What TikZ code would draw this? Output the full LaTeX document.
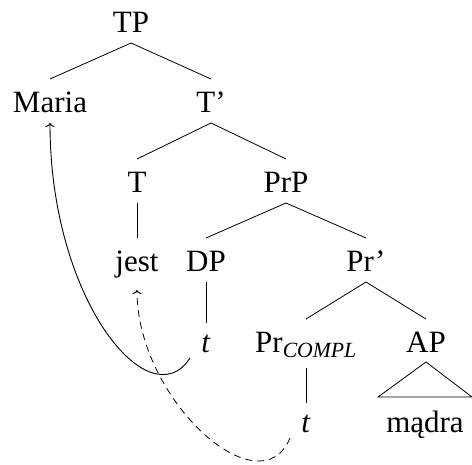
\documentclass[tikz,border=0pt]{standalone}
\usepackage{fontspec}
\setmainfont{Liberation Serif}
\usetikzlibrary{arrows.meta}
\begin{document}
\begin{tikzpicture}[x=1pt,y=-1pt,
  lbl/.style={font=\fontsize{31}{37}\selectfont, inner sep=0pt, outer sep=0pt, anchor=base, text height=33pt, text depth=11pt},
  trc/.style={lbl, text height=29pt},
  edge/.style={line width=0.8pt},
  tipsty/.style={-{To[length=4pt,width=9pt,line width=0.9pt]}},
  move/.style={line width=0.9pt, tipsty},
  movedash/.style={line width=0.8pt, tipsty, dash pattern=on 7pt off 5pt}]
\useasboundingbox (0,0) rectangle (472,464);
\node[lbl] (TP) at (131,32) {TP};
\node[lbl] (Maria) at (50,112) {Maria};
\node[lbl] (Tbar) at (211,112) {T'};
\node[lbl] (T) at (137,192) {T};
\node[lbl] (PrP) at (286,192) {PrP};
\node[lbl] (jest) at (137,271) {jest};
\node[lbl] (DP) at (206,271) {DP};
\node[lbl] (Prbar) at (366,271) {Pr'};
\node[trc] (t1) at (206,352) {\textit{t}};
\node[lbl, text depth=16pt] (PrC) at (306,352) {Pr\textsubscript{\textit{COMPL}}};
\node[lbl, text depth=10pt] (AP) at (426,352) {AP};
\node[trc] (t2) at (306,432) {\textit{t}};
\node[lbl] (madra) at (425,432) {mądra};
\draw[edge] (TP.south) -- (Maria.north);
\draw[edge] (TP.south) -- (Tbar.north);
\draw[edge] (Tbar.south) -- (T.north);
\draw[edge] (Tbar.south) -- (PrP.north);
\draw[edge] (T.south) -- (jest.north);
\draw[edge] (PrP.south) -- (DP.north);
\draw[edge] (PrP.south) -- (Prbar.north);
\draw[edge] (DP.south) -- (t1.north);
\draw[edge] (Prbar.south) -- (PrC.north);
\draw[edge] (Prbar.south) -- (AP.north);
\draw[edge] (PrC.south) -- (t2.north);
\draw[edge] (AP.south) -- ([shift={(-47pt,35pt)}]madra.base) -- ([shift={(47pt,35pt)}]madra.base) -- cycle;
\draw[move] ([shift={(-16pt,-6pt)}]t1.base) .. controls +(-40pt,-62pt) and +(0pt,-178pt) .. (Maria.south);
\draw[movedash] ([shift={(-16pt,-6pt)}]t2.base) .. controls +(-30pt,-72pt) and +(0pt,-110pt) .. ([yshift=-19pt]jest.base);
\end{tikzpicture}
\end{document}
